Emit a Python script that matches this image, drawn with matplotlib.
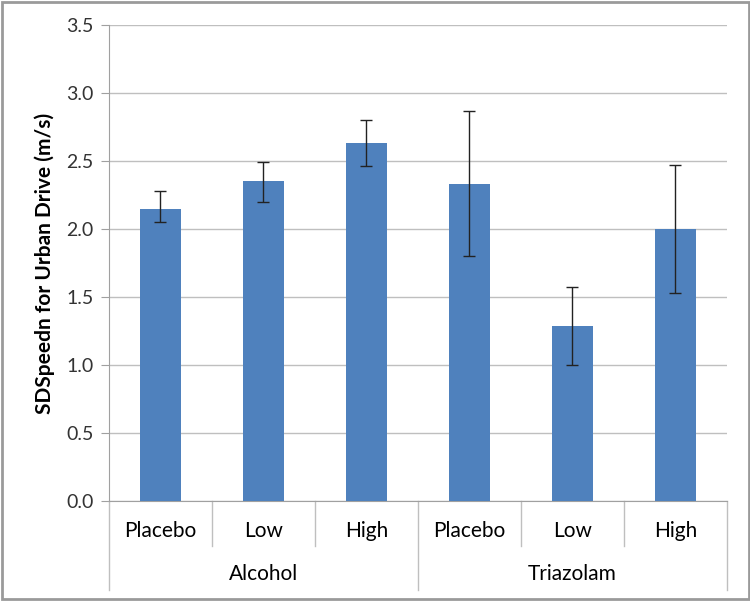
import matplotlib.pyplot as plt
from matplotlib.patches import Rectangle

# data
groups = ['Alcohol', 'Triazolam']
doses = ['Placebo', 'Low', 'High']
means = [2.15, 2.35, 2.63, 2.33, 1.29, 2.00]
err_low = [2.05, 2.20, 2.46, 1.80, 1.00, 1.53]
err_high = [2.28, 2.49, 2.80, 2.87, 1.57, 2.47]
yticks = [0.0, 0.5, 1.0, 1.5, 2.0, 2.5, 3.0, 3.5]

plt.rcParams['font.family'] = ['Lato', 'DejaVu Sans']

fig = plt.figure(figsize=(7.5, 6.01), dpi=100)
ax = fig.add_axes([0.1453, 0.1664, 0.824, 0.792])

x = list(range(len(means)))
lower = [m - lo for m, lo in zip(means, err_low)]
upper = [hi - m for m, hi in zip(means, err_high)]

ax.bar(x, means, width=0.4, color='#4F81BD', zorder=3)
ax.errorbar(x, means, yerr=[lower, upper], fmt='none', ecolor='#222222',
            elinewidth=1, capsize=4, capthick=1, zorder=4)

ax.set_xlim(-0.5, len(means) - 0.5)
ax.set_ylim(0, 3.5)
ax.set_yticks(yticks)
ax.set_yticklabels(['%.1f' % t for t in yticks], fontsize=14, color='#333333')
ax.yaxis.grid(True, color='#BFBFBF', linewidth=1, zorder=0)
ax.tick_params(axis='y', length=6, color='#A0A0A0', pad=5)
ax.set_xticks([])

for side in ['top', 'right']:
    ax.spines[side].set_visible(False)
ax.spines['left'].set_color('#A0A0A0')
ax.spines['bottom'].set_color('#A0A0A0')

ax.set_ylabel('SDSpeedn for Urban Drive (m/s)', fontsize=15, fontweight='bold', labelpad=8)

# two-level category axis
trans = ax.get_xaxis_transform()
n = len(doses)
for i in range(len(means) + 1):
    xpos = i - 0.5
    bottom = -0.187 if i % n == 0 else -0.0945
    ax.plot([xpos, xpos], [0, bottom], color='#BFBFBF', lw=1, transform=trans, clip_on=False)
for i in range(len(means)):
    ax.text(i, -0.063, doses[i % n], transform=trans, ha='center', va='center', fontsize=15)
for g, name in enumerate(groups):
    ax.text(g * n + (n - 1) / 2, -0.153, name, transform=trans, ha='center', va='center', fontsize=15)

fig.patches.append(Rectangle((0.002, 0.003), 0.996, 0.994, transform=fig.transFigure,
                             fill=False, edgecolor='#9A9A9A', linewidth=2))

plt.savefig('out.png', dpi=100)
